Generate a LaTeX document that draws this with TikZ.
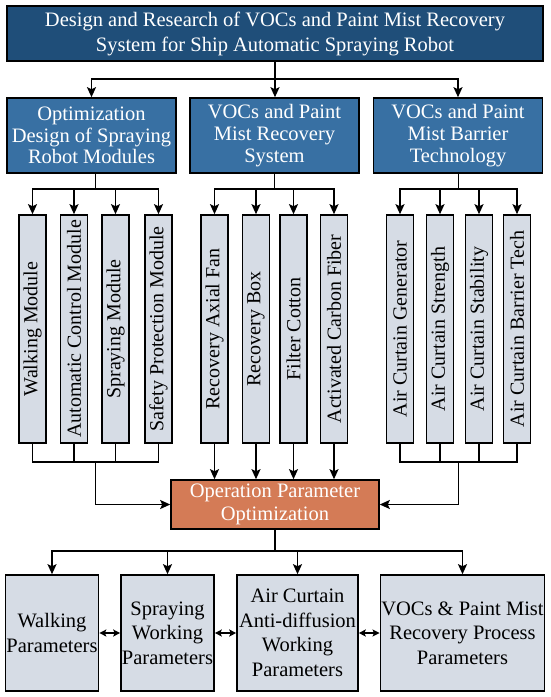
\documentclass[tikz,border=0pt]{standalone}
\usepackage{fontspec}
\setmainfont{Liberation Serif}
\usepackage{graphicx}
\usetikzlibrary{positioning, arrows.meta, calc}
\definecolor{titleblue}{RGB}{31,78,121}
\definecolor{groupblue}{RGB}{56,112,163}
\definecolor{partgray}{RGB}{214,220,229}
\definecolor{optorange}{RGB}{212,123,86}

\begin{document}
\begin{tikzpicture}[
    x=1pt, y=1pt,
    headbox/.style={
        rectangle, draw=black, line width=1.8pt, fill=titleblue,
        minimum width=536pt, minimum height=55pt, inner sep=1pt,
        align=center, text=white, font=\fontsize{20.5}{25}\selectfont
    },
    groupbox/.style={
        rectangle, draw=black, line width=1.6pt, fill=groupblue,
        minimum width=169pt, minimum height=75pt, inner sep=1pt,
        align=center, text=white, font=\fontsize{20.5}{21.7}\selectfont
    },
    partbox/.style={
        rectangle, draw=black, line width=1.6pt, fill=partgray,
        minimum width=27pt, minimum height=228pt, inner sep=0pt,
        font=\fontsize{20}{24}\selectfont
    },
    optbox/.style={
        rectangle, draw=black, line width=1.6pt, fill=optorange,
        minimum width=208pt, minimum height=49pt, inner sep=1pt,
        align=center, text=white, font=\fontsize{20.5}{23}\selectfont
    },
    parambox/.style={
        rectangle, draw=black, line width=1.6pt, fill=partgray,
        minimum height=116pt, inner sep=1pt,
        align=center, font=\fontsize{20.5}{24.5}\selectfont
    },
    link/.style={line width=1.5pt},
    flow/.style={-{Stealth[length=10pt, width=9pt, inset=2pt]}, line width=1.5pt},
    twoway/.style={{Stealth[length=7pt, width=7pt, inset=1.5pt]}-{Stealth[length=7pt, width=7pt, inset=1.5pt]}, line width=1.5pt}
]
\useasboundingbox (0,0) rectangle (550,-697);

% --- top and group nodes ---
\node[headbox] (head) at (275,-33.5) {Design and Research of VOCs and Paint Mist Recovery\\System for Ship Automatic Spraying Robot};
\node[groupbox] (robot)   at (91.5,-135.5)  {Optimization\\Design of Spraying\\Robot Modules};
\node[groupbox] (recov)   at (274.5,-135.5) {VOCs and Paint\\Mist Recovery\\System};
\node[groupbox] (barrier) at (458,-135.5)   {VOCs and Paint\\Mist Barrier\\Technology};

% --- part nodes ---
\node[partbox] (walk)   at (32.5,-329)  {\rotatebox{90}{Walking Module}};
\node[partbox] (autoc)  at (74,-329)    {\rotatebox{90}{Automatic Control Module}};
\node[partbox] (spray)  at (115.5,-329) {\rotatebox{90}{Spraying Module}};
\node[partbox] (safety) at (158.5,-329) {\rotatebox{90}{Safety Protection Module}};

\node[partbox] (fan)    at (214.5,-329) {\rotatebox{90}{Recovery Axial Fan}};
\node[partbox] (rbox)   at (256,-329)   {\rotatebox{90}{Recovery Box}};
\node[partbox] (cotton) at (293.5,-329) {\rotatebox{90}{Filter Cotton}};
\node[partbox] (carbon) at (334,-329)   {\rotatebox{90}{Activated Carbon Fiber}};

\node[partbox] (gen)    at (400,-329) {\rotatebox{90}{Air Curtain Generator}};
\node[partbox] (stren)  at (440,-329) {\rotatebox{90}{Air Curtain Strength}};
\node[partbox] (stab)   at (479,-329) {\rotatebox{90}{Air Curtain Stability}};
\node[partbox] (tech)   at (517,-329) {\rotatebox{90}{Air Curtain Barrier Tech}};

% --- optimization and parameter nodes ---
\node[optbox] (opt) at (275,-504.5) {Operation Parameter\\Optimization};

\node[parambox, minimum width=92pt]  (pwalk)  at (52,-633)    {Walking\\Parameters};
\node[parambox, minimum width=91pt]  (pspray) at (167.5,-633) {Spraying\\Working\\Parameters};
\node[parambox, minimum width=121pt] (pair)   at (297.5,-633) {Air Curtain\\Anti-diffusion\\Working\\Parameters};
\node[parambox, minimum width=161pt] (pvoc)   at (462.5,-633) {VOCs \& Paint Mist\\Recovery Process\\Parameters};

% --- head -> groups ---
\draw[link] (head.south) -- ++(0,-17) coordinate (t0);
\draw[flow] (t0) -| (robot.north);
\draw[flow] (t0) -- (t0 |- recov.north);
\draw[flow] (t0) -| (barrier.north);

% --- groups -> parts ---
\coordinate (g1) at ($(walk.north)!.5!(safety.north)+(0,25)$);
\draw[link] (robot.south -| g1) -- (g1);
\draw[flow] (g1) -| (walk.north);
\draw[flow] (g1) -| (safety.north);
\draw[flow] (autoc.north |- g1) -- (autoc.north);
\draw[flow] (spray.north |- g1) -- (spray.north);

\coordinate (g2) at ($(fan.north)!.5!(carbon.north)+(0,25)$);
\draw[link] (recov.south -| g2) -- (g2);
\draw[flow] (g2) -| (fan.north);
\draw[flow] (g2) -| (carbon.north);
\draw[flow] (rbox.north |- g2) -- (rbox.north);
\draw[flow] (cotton.north |- g2) -- (cotton.north);

\coordinate (g3) at ($(gen.north)!.5!(tech.north)+(0,25)$);
\draw[link] (barrier.south -| g3) -- (g3);
\draw[flow] (g3) -| (gen.north);
\draw[flow] (g3) -| (tech.north);
\draw[flow] (stren.north |- g3) -- (stren.north);
\draw[flow] (stab.north |- g3) -- (stab.north);

% --- parts -> optimization ---
\coordinate (h1) at ($(walk.south)!.5!(safety.south)+(0,-18)$);
\draw[link] (walk.south) |- (h1) -| (safety.south);
\draw[link] (autoc.south) -- (autoc.south |- h1);
\draw[link] (spray.south) -- (spray.south |- h1);
\draw[flow] (h1) |- (opt.west);

\draw[flow] (fan.south) -- (fan.south |- opt.north);
\draw[flow] (rbox.south) -- (rbox.south |- opt.north);
\draw[flow] (cotton.south) -- (cotton.south |- opt.north);
\draw[flow] (carbon.south) -- (carbon.south |- opt.north);

\coordinate (h3) at ($(gen.south)!.5!(tech.south)+(0,-18)$);
\draw[link] (gen.south) |- (h3) -| (tech.south);
\draw[link] (stren.south) -- (stren.south |- h3);
\draw[link] (stab.south) -- (stab.south |- h3);
\draw[flow] (h3) |- (opt.east);

% --- optimization -> parameters ---
\draw[link] (opt.south) -- ++(0,-21) coordinate (o0);
\draw[flow] (o0) -| (pwalk.north);
\draw[flow] (o0) -| (pspray.north);
\draw[flow] (o0) -| (pair.north);
\draw[flow] (o0) -| (pvoc.north);

% --- coupling between parameters ---
\draw[twoway] (pwalk.east) -- (pspray.west);
\draw[twoway] (pspray.east) -- (pair.west);
\draw[twoway] (pair.east) -- (pvoc.west);

\end{tikzpicture}
\end{document}
